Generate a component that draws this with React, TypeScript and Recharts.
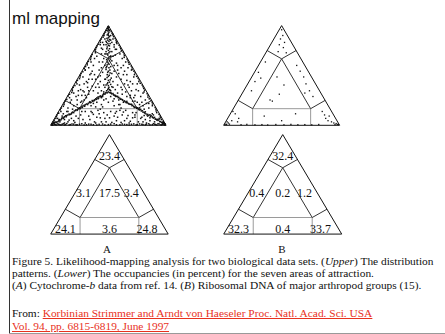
import React from "react"
import { ScatterChart, Scatter, XAxis, YAxis, ReferenceLine } from "recharts"

// occupancy (percent) of the seven areas of attraction, in the order:
// top corner, left edge, centre, right edge, bottom-left corner, bottom edge, bottom-right corner
const occupancyA = [23.4, 3.1, 17.5, 3.4, 24.1, 3.6, 24.8]
const occupancyB = [32.4, 0.4, 0.2, 1.2, 32.3, 0.4, 33.7]
const panelLetters = ["A", "B"]

// quartet points of the likelihood maps, "x,y" in a triangle of side 100 (height 86.6)
const quartetsA = `
50,85 50,83 49.5,82 50.5,81 50,80 49,78.5 51,77 50,76 49.5,74 50.5,73 48.5,72 51.5,71 50,69.5 49,68 51,66.5 50,65
48,64 50.5,63 49.5,61 52,60 50,58.5 48.5,57 51,56 50,54 49,52.5 52,51 50.5,50 48,48.5 50,47 51.5,45.5 49,44 50,42.5
52.5,41 47.5,40 50,39 51,37.5 49,36 50,34.5 53,33.5 47,33 50,32 51.5,30.5 48.5,30 50,29
49.2,84 50.8,82.5 49.8,79 50.3,77.8 48.8,75.5 51.2,74.5 49.6,71 50.9,69 48.7,66.5 51.4,64 49.3,62 50.7,59.5 51.8,57.5
49.2,55 50.6,53 48.6,51 51.3,48 49.4,46 50.8,43.5 48.9,41.5 51.6,39.5 49.5,37 52,35.5 48,35 50.5,33 51,31 49.5,31
1.5,1 3,1.5 4,2.8 5.5,3 7,4.5 8,4.2 9.5,5.8 11,6 12,7.5 13.5,7.4 15,9 16,9.8 17.5,9.6 19,11.5 20,11 21.5,12.8 23,13
24,14.5 25.5,14.3 27,16 28,16.8 29.5,16.5 31,18.5 32,18 33.5,19.8 35,20 36,21.5 37.5,21.3 39,23 40,23.8 41.5,23.5
43,25.5 44,25 45.5,26.8 47,27 48,28.5 2.5,2.2 6.5,3.2 10,6.5 14,8.5 18,10.2 22,13.5 26,15 30,17.8 34,20.5 38,22
42,24.8 46,27.5
3.5,2.6 5,2.4 7.5,5 9,4.8 11.5,6.8 13,8.3 16.5,9.2 18.5,10.9 20.5,12.4 23.5,13.8 25,15.2 27.5,15.5 29,17.3 32.5,19
34.5,19.6 36.5,20.8 39.5,22.5 41,24.5 43.5,24.8 45,26 47.5,28 49,28.2
98.5,1.2 97,1.8 96.2,2.6 94.5,3.3 93,4.2 92,4.6 90.5,5.5 89,6.3 88,7.2 86.5,7.8 85,8.7 84,9.5 82.5,10 81,11.2
80,11.4 78.5,12.5 77,13.4 76,14.2 74.5,14.8 73,15.7 72,16.4 70.5,17 69,18.2 68,18.4 66.5,19.5 65,20.3 64,21.2
62.5,21.8 61,22.7 60,23.4 58.5,24 57,25.2 56,25.4 54.5,26.5 53,27.3 52,28.2 97.5,2.6 93.8,4.9 90,6.9 86,9.2
82,11.7 78,13.8 74,15.6 70,18.3 66,20.8 62,22.3 58,25.1 54,27.6
96.5,2.3 95,3.1 92.5,5.1 91,5.3 88.5,6.9 87,8.3 83.5,9 81.5,10.7 79.5,12.6 76.5,13.7 75,15.2 72.5,15.5 71,17.4
67.5,18.9 65.5,19.7 63.5,20.6 60.5,22.6 59,24.2 56.5,25 55,26.1 52.5,27.8 51,28.4
1.5,1.5 2.2,3 3.2,4.5 4.5,6 5,7.5 6.6,10.5 5.6,9 8.9,12 9.3,15 11.6,18 12.6,21 16.4,24 16.4,27 18.8,30 19.6,33
22.8,36 23.2,39 25.5,42 26.4,45 29.9,48 30.3,51 31.7,54 34.5,57 35.2,60 38.8,63 38.9,66 40.3,69 43.1,72 43.9,75
46,78 47.5,81
7,10.5 8.3,13.5 11,16.5 11.8,19.5 14,22.5 15.2,25.5 18.3,28.5 18.8,31.5 21,34.5 22.2,37.5 25,40.5 25.7,43.5
27.9,46.5 29.1,49.5 31.7,52.5 32.7,55.5 34.8,58.5 36,61.5 38.7,64.5 39.6,67.5 41.6,70.5 42.9,73.5 45.4,76.5
46.5,79.5 48.2,82.5
98.25,2 95.9,5 94.9,8 91.85,11 91.2,14 88.1,17 87.95,20 85.4,23 84.4,26 80.9,29 80.6,32 79.3,35 76.4,38 75.7,41
72.6,44 72.1,47 70.6,50 68,53 67,56 63.7,59 63.6,62 61.4,65 60.2,68 57.4,71 56.6,74 54.5,77 53.2,80 51.6,83
97.5,3.5 95.25,6.5 93.9,9.5 91.4,12.5 90.55,15.5 88.2,18.5 87,21.5 84.25,24.5 83.6,27.5 81.4,30.5 80.05,33.5
77.6,36.5 76.7,39.5 74.5,42.5 73.1,45.5 70.5,48.5 69.8,51.5 67.5,54.5 66.2,57.5 63.9,60.5 62.8,63.5 60.7,66.5
59.3,69.5 57.1,72.5 55.9,75.5 53.9,78.5 52.45,81.5
2,0.4 3.5,0.8 5,0.3 6,1.2 8,0.5 10,0.9 12,0.3 14,1.5 17,0.6 20,1 23,0.4 27,1.3 31,0.5 35,0.9 40,0.3 45,1.1 50,0.6
55,1.4 60,0.4 64,0.8 68,0.3 72,1.2 75,0.6 79,0.9 82,0.4 85,1.3 88,0.5 90,1 92,0.3 94,1.1 95.5,0.5 97,0.9 98.5,0.4
1.5,0.2 4,0.6 7,0.9 9,0.3 11,1.3 13,0.6 16,0.3 18.5,1.1 22,0.5 25,0.9 29,0.3 33,1 37,0.5 42,0.8 47,0.3 52,1 57,0.5
62,1.1 66,0.6 70,0.9 74,0.3 77,1.2 80,0.6 83,1 86,0.4 89,1.4 91,0.6 93,1.4 96,0.3 97.8,1.2
0.8,0.3 1.2,0.6 1,1.2 2,1.8 99.2,0.3 98.8,0.7 99,1.3 98,1.9 49.7,85.5 50.4,85.2 50,84.4
46,70 53,72 47,75 55,68 44,67 57,66 52,78 48,70 54,75 45,72
47,62 53,64 45,66 55,70 48,73 52,74 46,78 54,79 43,70 57,72
20,28 25,35 22,25 28,42 30,48 26,31 33,50 35,55 38,58 31,38 24,30 36,47 40,60 29,36 18,22 27,26 34,44 32,33 23,18 37,52
80,28 75,36 78,25 72,42 70,48 74,31 67,50 65,55 62,58 69,38 76,30 64,47 60,62 71,36 82,22 73,26 66,44 68,33 77,18 63,52
40,20 45,25 55,23 60,18 35,17 42,33 58,35 47,40 53,45 38,22 62,27 44,18 56,31 50,20 41,28 59,22 46,35 54,38 48,50
52,30 37,19 63,20 43,43 57,42
28,5 33,8 38,3 42,10 47,6 52,12 57,4 62,9 66,6 71,11 30,12 36,11 44,3 55,8 60,13 68,2 73,7 49,9 40,7 64,4
8,3 12,5 15,3 10,8 14,12 18,6 20,4 6,6 86,4 90,3 84,8 88,10 92,5 82,5 80,3 94,6
15,15 19,14 26,20 29,22 33,27 37,30 41,36 44,30 46,22 54,21 58,28 61,33 65,29 69,24 73,21 77,15 81,14 85,15 11,10
89,9 43,14 57,12 35,12 65,13 39,40 61,40 45,55 55,52 42,48 58,48 48,62 52,60 31,24 69,26 27,12 73,9 22,8 78,6 17,20
83,19 56,66 44,62
12,2 16,4.5 21,2.5 24,6 26,9 30,2 34,5 37,9.5 39,2 41,13 43,6.5 46,11 48,3 51,6.5 53,2.5 56,10.5 58,7 61,2.5
63,11.5 67,8.5 69,3.5 71,6.5 74,11 76,3 79,7 83,2 86,6.5 81,8.5
20,17 23,22 27,21 30,26 33,30 36,34 39,33 41,42 43,38 45,46 47,52 53,56 55,47 57,54 59,45 61,50 63,44 66,39 67,35
70,30 72,24 75,20 79,20 80,17 85,19 15,12 28,30 32,37 38,44 36,40 44,50 46,58 54,60 56,61 42,55 58,52 64,36 62,31
66,25 71,21 24,26 29,29 33,40 35,45 44,24 56,26 46,29 54,33 41,23 59,18 39,16 61,15 45,16 55,17 48,23 52,25
`

const quartetsB = `
50,83 51,78 49,75 52.5,72 48,70 51.5,67.5 47,64 54,63
36,55 30,46 27,38 32,41 24,30
63,52 66,47 69,42 71,36 74,30 77,25 70,28
46,42 52,35 40,22 42,21 48,27
8,12 10,10 13,6 7,4 4,2 2,1 3,3 1,0.5 12,3 5,1 2.5,0.6
88,6 90,4 93,3 95,2 97,1.5 98,0.8 99,0.5 85,12 87,9 91,8 96,0.6
15,0.5 20,0.8 27,0.4 33,0.6 38,0.3 45,0.7 52,0.4 58,0.8 64,0.5 70,0.6 76,0.4 82,0.7
35,8 50,4 62,10
`

const parseQuartets = (s: string) =>
  s.trim().split(/\s+/).map((p) => {
    const [x, y] = p.split(",").map(Number)
    return { x, y }
  })

const dotsA = parseQuartets(quartetsA)
const dotsB = parseQuartets(quartetsB)

// triangle geometry: side 100, corners given in barycentric weights (top, left, right)
const H = (Math.sqrt(3) / 2) * 100
const toXY = ([t, , r]: number[]) => ({ x: (r + t / 2) * 100, y: t * H })

const frameLines = [
  [[1, 0, 0], [0, 1, 0]],
  [[0, 1, 0], [0, 0, 1]],
  [[0, 0, 1], [1, 0, 0]],
]
const innerLines = [
  [[2 / 3, 1 / 6, 1 / 6], [1 / 6, 2 / 3, 1 / 6]],
  [[2 / 3, 1 / 6, 1 / 6], [1 / 6, 1 / 6, 2 / 3]],
  [[2 / 3, 1 / 6, 1 / 6], [3 / 4, 1 / 4, 0]],
  [[2 / 3, 1 / 6, 1 / 6], [3 / 4, 0, 1 / 4]],
  [[1 / 6, 2 / 3, 1 / 6], [1 / 4, 3 / 4, 0]],
  [[1 / 6, 1 / 6, 2 / 3], [1 / 4, 0, 3 / 4]],
]
const boxLines = [
  [[1 / 6, 2 / 3, 1 / 6], [1 / 6, 1 / 6, 2 / 3]],
  [[1 / 6, 2 / 3, 1 / 6], [0, 3 / 4, 1 / 4]],
  [[1 / 6, 1 / 6, 2 / 3], [0, 1 / 4, 3 / 4]],
]

// where each area's percentage sits inside the triangle
const areaAnchors = [
  [50, 67.7], [28, 35.6], [50, 35.6], [68.5, 35.6], [12.5, 4.5], [50, 4.5], [82, 4.5],
]

const PAD = 4
const serif = "'Liberation Serif', 'Times New Roman', serif"

type TriProps = {
  left: number
  base: number
  w: number
  h: number
  dots?: { x: number; y: number }[]
  dotSize?: number
  values?: number[]
}

function Triangle({ left, base, w, h, dots, dotSize = 1.4, values }: TriProps) {
  const kx = w / 100
  const ky = h / H
  const labels = values
    ? areaAnchors.map(([x, y], i) => ({ x, y, v: values[i] }))
    : []
  const d = dotSize / 2
  return (
    <div style={{ position: "absolute", left: left - PAD * kx, top: base - h - PAD * ky }}>
      <ScatterChart
        width={w + 2 * PAD * kx}
        height={h + 2 * PAD * ky}
        margin={{ top: 0, right: 0, bottom: 0, left: 0 }}
      >
        <XAxis type="number" dataKey="x" domain={[-PAD, 100 + PAD]} hide />
        <YAxis type="number" dataKey="y" domain={[-PAD, H + PAD]} hide />
        {boxLines.map(([a, b], i) => (
          <ReferenceLine key={`b${i}`} segment={[toXY(a), toXY(b)]} stroke="#9a9a9a" strokeWidth={1} />
        ))}
        {innerLines.map(([a, b], i) => (
          <ReferenceLine key={`i${i}`} segment={[toXY(a), toXY(b)]} stroke="#333" strokeWidth={1} />
        ))}
        {frameLines.map(([a, b], i) => (
          <ReferenceLine key={`f${i}`} segment={[toXY(a), toXY(b)]} stroke="#111" strokeWidth={1} />
        ))}
        {dots && (
          <Scatter
            data={dots}
            isAnimationActive={false}
            shape={(p: any) => (
              <rect x={p.cx - d} y={p.cy - d} width={dotSize} height={dotSize} fill="#111" />
            )}
          />
        )}
        {values && (
          <Scatter
            data={labels}
            isAnimationActive={false}
            shape={(p: any) => (
              <text
                x={p.cx}
                y={p.cy}
                textAnchor="middle"
                dominantBaseline="central"
                fontFamily={serif}
                fontSize={12}
                fill="#111"
              >
                {p.payload.v}
              </text>
            )}
          />
        )}
      </ScatterChart>
    </div>
  )
}

// one text line positioned by its baseline
function Line({ y, size, children }: any) {
  return (
    <div
      style={{
        position: "absolute",
        left: 12,
        top: y - 0.8375 * size,
        fontFamily: serif,
        fontSize: size,
        lineHeight: `${size}px`,
        whiteSpace: "nowrap",
        color: "#111",
      }}
    >
      {children}
    </div>
  )
}

const link = { color: "#e8321e", textDecoration: "underline" }
const CAP = 11.4

export default function App() {
  return (
    <div style={{ position: "relative", width: 445, height: 334, background: "#fff", overflow: "hidden" }}>
      <style>{"body{margin:0}"}</style>
      <div style={{ position: "absolute", left: 9, top: 0, width: 1, height: 334, background: "#333" }} />
      <div style={{ position: "absolute", left: 9, top: 333, width: 436, height: 1, background: "#999" }} />
      <div
        style={{
          position: "absolute",
          left: 12,
          top: 24 - 0.8465 * 17,
          fontFamily: "'Liberation Sans', Arial, sans-serif",
          fontSize: 17,
          lineHeight: "17px",
          color: "#111",
        }}
      >
        ml mapping
      </div>

      <Triangle left={50.3} base={125.7} w={115.5} h={99.7} dots={dotsA} dotSize={1.5} />
      <Triangle left={223.3} base={125.7} w={116} h={99.7} dots={dotsB} dotSize={1.3} />
      <Triangle left={50.8} base={234.5} w={117.5} h={99.5} values={occupancyA} />
      <Triangle left={223.8} base={234.5} w={118} h={99.5} values={occupancyB} />

      {panelLetters.map((l, i) => (
        <div
          key={l}
          style={{
            position: "absolute",
            left: i === 0 ? 97 : 272,
            width: 20,
            textAlign: "center",
            top: 253 - 0.8375 * 11,
            fontFamily: serif,
            fontSize: 11,
            lineHeight: "11px",
            color: "#111",
          }}
        >
          {l}
        </div>
      ))}

      <Line y={266} size={CAP}>
        Figure 5. Likelihood-mapping analysis for two biological data sets. (<i>Upper</i>) The distribution
      </Line>
      <Line y={278} size={CAP}>
        patterns. (<i>Lower</i>) The occupancies (in percent) for the seven areas of attraction.
      </Line>
      <Line y={289.8} size={CAP}>
        (<i>A</i>) Cytochrome-<i>b</i> data from ref. 14. (<i>B</i>) Ribosomal DNA of major arthropod groups (15).
      </Line>
      <Line y={317.5} size={CAP}>
        From: <span style={link}>Korbinian Strimmer and Arndt von Haeseler Proc. Natl. Acad. Sci. USA</span>
      </Line>
      <Line y={331} size={CAP}>
        <span style={link}>Vol. 94, pp. 6815-6819, June 1997</span>
      </Line>
    </div>
  )
}
